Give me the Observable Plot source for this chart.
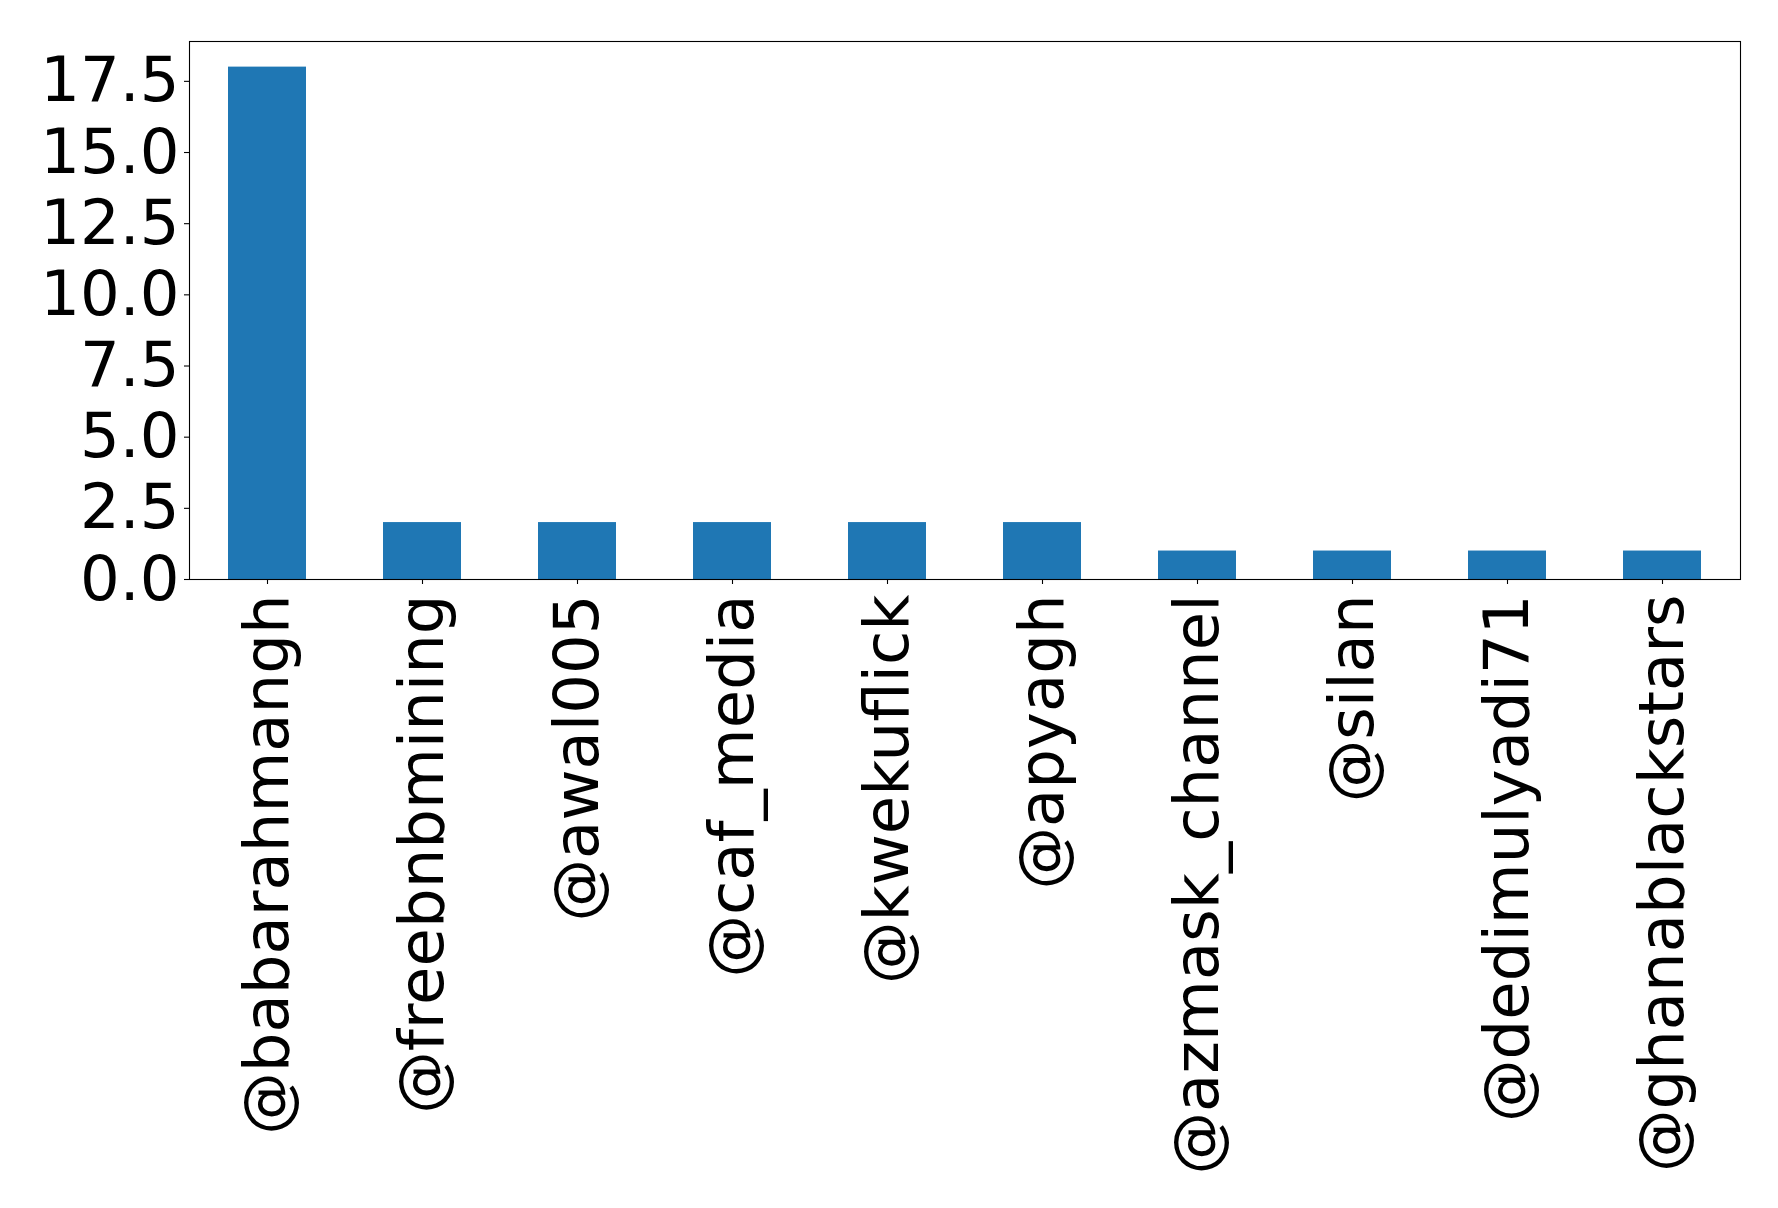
<!DOCTYPE html>
<html>
<head>
<meta charset="utf-8">
<script src="https://cdn.jsdelivr.net/npm/d3@7"></script>
<script src="https://cdn.jsdelivr.net/npm/@observablehq/plot@0.6"></script>
<style>
  html, body { margin: 0; padding: 0; background: #fff; }
  #chart svg { display: block; }
</style>
</head>
<body>
<div id="chart"></div>
<script>
// Most-mentioned accounts and their mention counts
const users = [
  "@babarahmangh",
  "@freebnbmining",
  "@awal005",
  "@caf_media",
  "@kwekuflick",
  "@apyagh",
  "@azmask_channel",
  "@silan",
  "@dedimulyadi71",
  "@ghanablackstars"
];
const counts = [18, 2, 2, 2, 2, 2, 1, 1, 1, 1];
const yTicks = [0, 2.5, 5, 7.5, 10, 12.5, 15, 17.5];

const rows = users.map((user, i) => ({user, count: counts[i]}));

const fontFamily = "'DejaVu Sans', sans-serif";
const fontSize = 62.5;

const chart = Plot.plot({
  width: 1778,
  height: 1208,
  marginLeft: 189,
  marginRight: 38,
  marginTop: 41,
  marginBottom: 629,
  style: {fontFamily, fontSize: `${fontSize}px`, color: "#000", background: "#fff"},
  x: {domain: users, paddingInner: 0.5, paddingOuter: 0.25},
  y: {domain: [0, 18.9]},
  marks: [
    Plot.barY(rows, {x: "user", y: "count", fill: "#1f77b4"}),
    Plot.frame({stroke: "#000", strokeWidth: 1.1}),
    Plot.axisY({
      ticks: yTicks,
      tickFormat: d3.format(".1f"),
      tickSize: 5,
      tickPadding: 5,
      strokeWidth: 1.1,
      fontSize,
      label: null
    }),
    Plot.axisX({
      tickRotate: -90,
      tickSize: 5,
      tickPadding: 10,
      strokeWidth: 1.1,
      fontSize,
      label: null
    })
  ]
});

document.getElementById("chart").appendChild(chart);
</script>
</body>
</html>
